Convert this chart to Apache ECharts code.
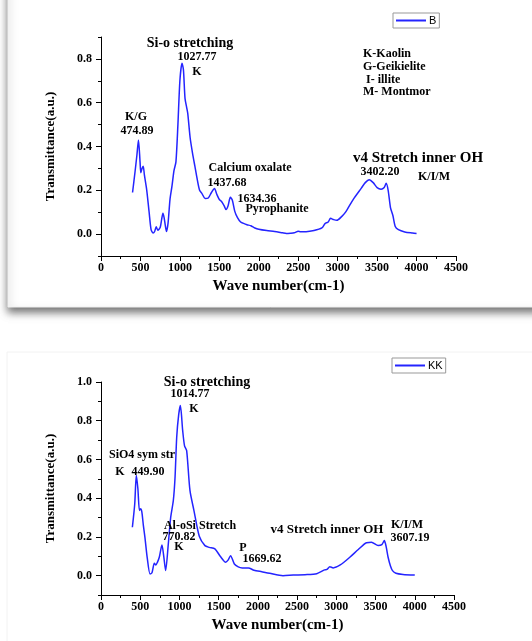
<!DOCTYPE html>
<html>
<head>
<meta charset="utf-8">
<script src="https://cdn.jsdelivr.net/npm/echarts@6/dist/echarts.min.js"></script>
<style>
html,body{margin:0;padding:0;background:#fff;}
#c{width:532px;height:641px;}
</style>
</head>
<body>
<div id="c"></div>
<script>
// ---- Data: sample B ----
const waveB = [400,430,455,475,495,505,520,535,550,580,610,635,660,680,700,720,750,770,785,800,815,830,850,875,900,925,950,975,1000,1027,1045,1065,1085,1100,1130,1160,1190,1220,1250,1280,1320,1360,1400,1438,1470,1500,1530,1560,1585,1610,1640,1665,1695,1730,1770,1800,1850,1900,1950,2000,2100,2200,2300,2350,2400,2450,2500,2530,2600,2700,2800,2840,2880,2910,2950,2990,3050,3100,3200,3300,3350,3400,3450,3500,3550,3590,3615,3640,3670,3700,3730,3770,3850,3950,4000];
const transB = [0.19,0.28,0.36,0.43,0.33,0.28,0.30,0.31,0.27,0.20,0.10,0.02,0.005,0.012,0.033,0.018,0.03,0.07,0.095,0.075,0.04,0.012,0.05,0.16,0.22,0.29,0.33,0.50,0.70,0.78,0.75,0.62,0.58,0.55,0.44,0.37,0.31,0.25,0.20,0.185,0.163,0.165,0.19,0.208,0.18,0.158,0.148,0.13,0.112,0.128,0.168,0.155,0.105,0.075,0.055,0.05,0.043,0.038,0.028,0.022,0.016,0.012,0.006,0.003,0.004,0.006,0.013,0.011,0.011,0.016,0.028,0.048,0.055,0.072,0.066,0.063,0.08,0.10,0.16,0.21,0.235,0.248,0.235,0.212,0.205,0.213,0.232,0.20,0.12,0.085,0.035,0.02,0.01,0.005,0.003];

// ---- Data: sample KK ----
const waveKK = [400,430,450,470,490,505,520,540,560,590,625,650,680,700,720,743,777,800,824,858,888,922,944,965,990,1012,1041,1065,1092,1134,1185,1253,1325,1380,1452,1520,1589,1620,1652,1700,1750,1800,1880,1950,2050,2150,2320,2450,2600,2750,2850,2880,2917,2960,3050,3172,3280,3384,3448,3533,3580,3612,3635,3660,3690,3716,3760,3850,4000];
const transKK = [0.25,0.37,0.517,0.45,0.336,0.345,0.33,0.26,0.198,0.09,0.009,0.015,0.064,0.055,0.07,0.095,0.158,0.10,0.026,0.164,0.30,0.388,0.508,0.715,0.83,0.878,0.75,0.67,0.646,0.44,0.336,0.203,0.155,0.146,0.138,0.10,0.069,0.08,0.103,0.06,0.045,0.04,0.04,0.028,0.02,0.012,0.0,0.003,0.005,0.01,0.03,0.032,0.046,0.04,0.055,0.095,0.135,0.17,0.172,0.155,0.16,0.181,0.15,0.095,0.05,0.026,0.012,0.006,0.003];

const xTicksLabel = [0,500,1000,1500,2000,2500,3000,3500,4000,4500];
const yLabelsB = [0,0.2,0.4,0.6,0.8];
const yLabelsKK = [0,0.2,0.4,0.6,0.8,1.0];

const pairs = (xs, ys) => xs.map((x, i) => [x, ys[i]]);

const serif = '"Liberation Serif","Times New Roman",serif';
const blue = '#2424ff';

function xAxisCfg(gi) {
  return {
    type: 'value', gridIndex: gi, min: 0, max: 4500, interval: 500,
    name: 'Wave number(cm-1)', nameLocation: 'middle', nameGap: 23,
    nameTextStyle: {fontFamily: serif, fontWeight: 'bold', fontSize: 15, color: '#000'},
    axisLine: {show: true, onZero: false, lineStyle: {color: '#000', width: 1}},
    axisTick: {show: true, length: 5, lineStyle: {color: '#000'}},
    minorTick: {show: true, splitNumber: 2, length: 3, lineStyle: {color: '#000'}},
    axisLabel: {fontFamily: serif, fontWeight: 'bold', fontSize: 12, color: '#000', margin: 6,
      customValues: xTicksLabel, formatter: v => String(Math.round(v))},
    splitLine: {show: false}
  };
}
function yAxisMain(gi, max, labels) {
  return {
    type: 'value', gridIndex: gi, min: -0.1, max: max, interval: 0.1,
    name: 'Transmittance(a.u.)', nameLocation: 'middle', nameGap: 44,
    nameTextStyle: {fontFamily: serif, fontWeight: 'bold', fontSize: 13, color: '#000'},
    axisLine: {show: true, onZero: false, lineStyle: {color: '#000', width: 1}},
    axisTick: {show: true, length: 5, customValues: labels, lineStyle: {color: '#000'}},
    axisLabel: {fontFamily: serif, fontWeight: 'bold', fontSize: 12, color: '#000', margin: 9,
      customValues: labels, formatter: v => v.toFixed(1)},
    splitLine: {show: false}
  };
}
function yAxisMinor(gi, max) {
  return {
    type: 'value', gridIndex: gi, min: -0.1, max: max, interval: 0.1, position: 'left',
    axisLine: {show: false}, axisLabel: {show: false}, splitLine: {show: false},
    axisTick: {show: true, length: 3, lineStyle: {color: '#000'}}
  };
}

function txt(x, y, t, size, align) {
  return {
    type: 'text', x: x, y: y, z: 100,
    style: {text: t, fontFamily: serif, fontWeight: 'bold', fontSize: size || 12, fill: '#000',
      align: align || 'center', verticalAlign: 'middle'}
  };
}

function legendCfg(name, left, top) {
  return {data: [name], left: left, top: top, orient: 'horizontal', icon: 'rect',
    itemWidth: 30, itemHeight: 2, itemGap: 4,
    padding: [2, 3], borderColor: '#999', borderWidth: 1, backgroundColor: '#fff',
    textStyle: {fontSize: 11, color: '#000', fontFamily: 'Arial, sans-serif', padding: [0, 0, 0, -2]}};
}

const chart = echarts.init(document.getElementById('c'), null, {renderer: 'canvas'});
chart.setOption({
  backgroundColor: '#fff',
  animation: false,
  grid: [
    {left: 101, top: 37, width: 355, height: 219},
    {left: 101, top: 382, width: 353, height: 213}
  ],
  legend: [legendCfg('B', 393, 13), legendCfg('KK', 392, 358)],
  xAxis: [xAxisCfg(0), xAxisCfg(1)],
  yAxis: [yAxisMain(0, 0.9, yLabelsB), yAxisMinor(0, 0.9), yAxisMain(1, 1.0, yLabelsKK), yAxisMinor(1, 1.0)],
  series: [
    {name: 'B', type: 'line', xAxisIndex: 0, yAxisIndex: 0, data: pairs(waveB, transB),
      symbol: 'none', smooth: 0.25, lineStyle: {color: blue, width: 1.5}, itemStyle: {color: blue}},
    {name: 'KK', type: 'line', xAxisIndex: 1, yAxisIndex: 2, data: pairs(waveKK, transKK),
      symbol: 'none', smooth: 0.25, lineStyle: {color: blue, width: 1.5}, itemStyle: {color: blue}}
  ],
  graphic: [
    {type: 'rect', z: -10, shape: {x: 8, y: -20, width: 540, height: 327},
      style: {fill: '#fff', stroke: '#f0f0f0', lineWidth: 1, shadowBlur: 8, shadowOffsetY: 5, shadowColor: 'rgba(0,0,0,0.55)'}},
    {type: 'rect', z: -10, shape: {x: 7, y: 352, width: 540, height: 300},
      style: {fill: '#fff', stroke: '#f2f2f2', lineWidth: 1}},
    txt(190, 43, 'Si-o stretching', 14),
    txt(197, 57, '1027.77'),
    txt(197, 72, 'K'),
    txt(136, 117, 'K/G'),
    txt(137, 131, '474.89'),
    txt(250, 168, 'Calcium oxalate'),
    txt(227, 183, '1437.68'),
    txt(257, 199, '1634.36'),
    txt(277, 209, 'Pyrophanite'),
    txt(363, 54, 'K-Kaolin', 12, 'left'),
    txt(363, 67, 'G-Geikielite', 12, 'left'),
    txt(366, 80, 'I- illite', 12, 'left'),
    txt(363, 92, 'M- Montmor', 12, 'left'),
    txt(418, 158, 'v4 Stretch inner OH', 15),
    txt(380, 172, '3402.20'),
    txt(434, 177, 'K/I/M'),
    txt(207, 382, 'Si-o stretching', 14),
    txt(190, 394, '1014.77'),
    txt(194, 409, 'K'),
    txt(142, 455, 'SiO4 sym str'),
    txt(120, 472, 'K'),
    txt(148, 472, '449.90'),
    txt(200, 526, 'Al-oSi Stretch'),
    txt(179, 537, '770.82'),
    txt(179, 547, 'K'),
    txt(243, 548, 'P'),
    txt(262, 559, '1669.62'),
    txt(327, 530, 'v4 Stretch inner OH', 13),
    txt(407, 525, 'K/I/M'),
    txt(410, 538, '3607.19')
  ]
});
</script>
</body>
</html>
